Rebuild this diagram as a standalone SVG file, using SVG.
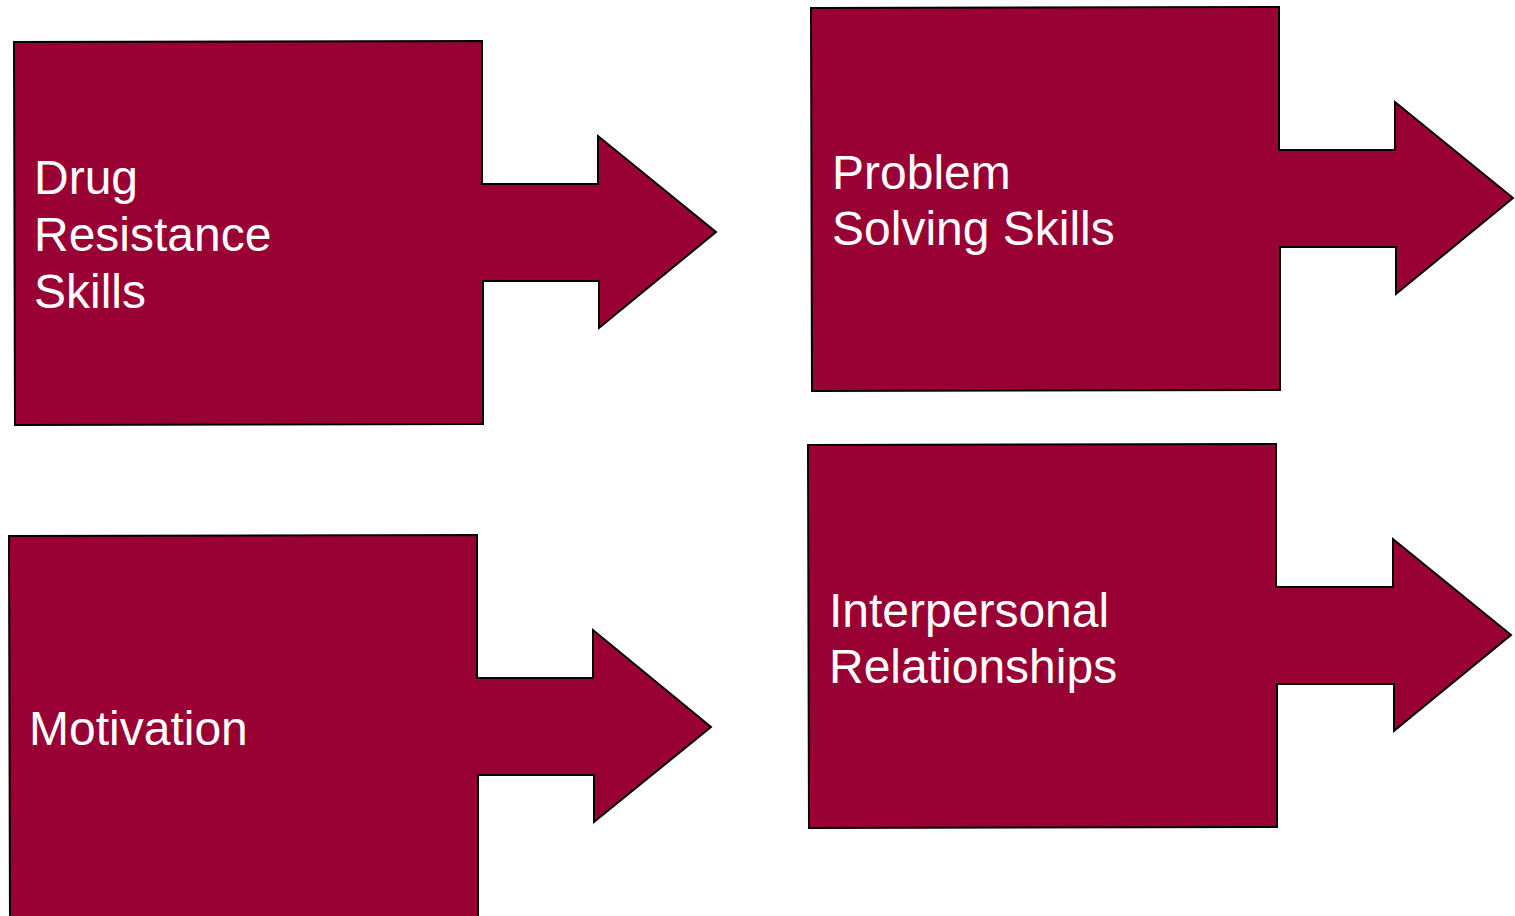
<svg xmlns="http://www.w3.org/2000/svg" width="1515" height="916" viewBox="0 0 1515 916">
<style>
.shape{fill:#990033;stroke:#000;stroke-width:2;stroke-linejoin:miter}
.lbl{font-family:"Liberation Sans",Arial,sans-serif;font-size:48px;fill:#fff}
</style>
<rect width="1515" height="916" fill="#fff"/>
<g id="node-drug">
<polygon class="shape" points="14,42 482,41 482,184 598,184 598,136 716,232 599,328 599,281 483,281 483,424 15,425"/>
<text class="lbl"><tspan x="34" y="194">Drug</tspan><tspan x="34" y="251">Resistance</tspan><tspan x="34" y="308">Skills</tspan></text>
</g>
<g id="node-problem">
<polygon class="shape" points="811,8 1279,7 1279,150 1395,150 1395,102 1513,198 1396,294 1396,247 1280,247 1280,390 812,391"/>
<text class="lbl"><tspan x="832" y="189">Problem</tspan><tspan x="832" y="245">Solving Skills</tspan></text>
</g>
<g id="node-motivation">
<polygon class="shape" points="9,536 477,535 477,678 593,678 593,630 711,727 594,822 594,775 478,775 478,925 10,925"/>
<text class="lbl" x="29" y="745">Motivation</text>
</g>
<g id="node-interpersonal">
<polygon class="shape" points="808,445 1276,444 1276,587 1393,587 1393,539 1511,635 1394,731 1394,684 1277,684 1277,827 809,828"/>
<text class="lbl"><tspan x="829" y="627">Interpersonal</tspan><tspan x="829" y="683">Relationships</tspan></text>
</g>
<g id="connectors"/>
</svg>
